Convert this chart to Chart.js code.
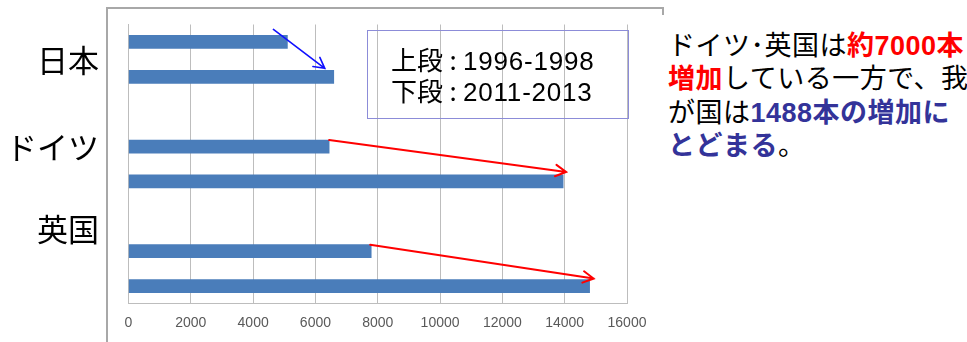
<!DOCTYPE html>
<html>
<head>
<meta charset="utf-8">
<script src="https://cdn.jsdelivr.net/npm/chart.js@4.4.1/dist/chart.umd.min.js"></script>
<style>
	html, body { margin: 0; padding: 0; background: #fff; overflow: hidden; }
	body { width: 967px; height: 342px; position: relative; font-family: "Liberation Sans", "Noto Sans CJK JP", sans-serif; }
	#marco { position: absolute; left: 106px; top: 7px; width: 558px; height: 400px; border: 2px solid #a8a8a8; box-sizing: border-box; }
	#lienzo { position: absolute; left: 0; top: 0; }
	.pais { position: absolute; right: 868px; font-size: 31px; line-height: 36px; color: #000; white-space: nowrap; }
	#leyenda { position: absolute; left: 367px; top: 30px; width: 262px; height: 89px; border: 1.5px solid #8c8cd8; box-sizing: border-box; }
	#leyenda div { position: absolute; left: 23px; font-size: 26px; line-height: 28px; color: #000; white-space: nowrap; }
	#leyenda .dos { font-family: "Noto Sans CJK JP"; display: inline-block; width: 20px; text-align: center; }
	#leyenda .num { letter-spacing: 0.8px; }
	#nota { position: absolute; left: 652px; top: 15px; width: 315px; height: 327px; background: #fff; }
	#nota p { position: absolute; left: 16px; top: 15px; margin: 0; font-size: 27px; letter-spacing: 0.5px; line-height: 33.3px; color: #000; white-space: nowrap; }
	.rojo { color: #ff0000; font-weight: bold; }
	.azul { color: #333399; font-weight: bold; }
</style>
</head>
<body>
<div id="marco"></div>
<canvas id="lienzo" width="967" height="342"></canvas>

<div class="pais" style="top:44px">日本</div>
<div class="pais" style="top:131px">ドイツ</div>
<div class="pais" style="top:213px">英国</div>

<div id="leyenda">
	<div style="top:14px">上段<span class="dos">:</span><span class="num">1996-1998</span></div>
	<div style="top:45px">下段<span class="dos">:</span><span class="num">2011-2013</span></div>
</div>

<div id="nota"><p>ドイツ･英国は<span class="rojo">約7000本</span><br><span class="rojo">増加</span>している一方で、我<br>が国は<span class="azul">1488本の増加に</span><br><span class="azul">とどまる</span>。</p></div>

<script>
// 本数: 上段 1996-1998, 下段 2011-2013
var paises = ['日本', 'ドイツ', '英国'];
var valores_1996_1998 = [5100, 6440, 7790];
var valores_2011_2013 = [6588, 13950, 14800];
var ticks_x = [0, 2000, 4000, 6000, 8000, 10000, 12000, 14000, 16000];

// cada pais ocupa dos filas y deja una vacia detras
var filas = [];
var datos = [];
for (var i = 0; i < paises.length; i++) {
	filas.push(paises[i], paises[i]);
	datos.push(valores_1996_1998[i], valores_2011_2013[i]);
	if (i < paises.length - 1) {
		filas.push('');
		datos.push(null);
	}
}

// flechas entre las dos barras de cada pais (desplazamientos en px)
var estilo_flechas = [
	{ color: '#1010ff', ancho: 1.6, dx0: -14, dy0: -6, dx1: -9, dy1: -2 },
	{ color: '#ff0000', ancho: 2, dx0: 0, dy0: 0, dx1: 3, dy1: -3 },
	{ color: '#ff0000', ancho: 2, dx0: -1, dy0: 0, dx1: 4, dy1: -1 }
];

function dibujaFlecha(ctx, x0, y0, x1, y1, color, ancho)
{
	var ang = Math.atan2(y1 - y0, x1 - x0);
	var largo = 12;
	ctx.save();
	ctx.strokeStyle = color;
	ctx.lineWidth = ancho;
	ctx.lineCap = 'round';
	ctx.beginPath();
	ctx.moveTo(x0, y0);
	ctx.lineTo(x1, y1);
	ctx.moveTo(x1 - largo * Math.cos(ang - 0.5), y1 - largo * Math.sin(ang - 0.5));
	ctx.lineTo(x1, y1);
	ctx.lineTo(x1 - largo * Math.cos(ang + 0.5), y1 - largo * Math.sin(ang + 0.5));
	ctx.stroke();
	ctx.restore();
}

var pluginFlechas = {
	id: 'flechas',
	afterDatasetsDraw: function (chart)
	{
		var barras = chart.getDatasetMeta(0).data;
		var ctx = chart.ctx;
		for (var i = 0; i < paises.length; i++) {
			var arriba = barras[i * 3];
			var abajo = barras[i * 3 + 1];
			var e = estilo_flechas[i];
			dibujaFlecha(ctx,
				arriba.x + e.dx0, arriba.y - arriba.height / 2 + e.dy0,
				abajo.x + e.dx1, abajo.y - abajo.height / 2 + e.dy1,
				e.color, e.ancho);
		}
	}
};

var gris = '#bdbdbd';

var grafica = new Chart(document.getElementById('lienzo').getContext('2d'), {
	type: 'bar',
	data: {
		labels: filas,
		datasets: [{
			data: datos,
			backgroundColor: '#4a7dba',
			borderWidth: 0,
			barThickness: 13
		}]
	},
	plugins: [pluginFlechas],
	options: {
		indexAxis: 'y',
		responsive: false,
		animation: false,
		layout: {
			padding: { left: 128.5, right: 340, top: 24.5, bottom: 0 }
		},
		plugins: {
			legend: { display: false },
			tooltip: { enabled: false }
		},
		scales: {
			x: {
				min: ticks_x[0],
				max: ticks_x[ticks_x.length - 1],
				afterBuildTicks: function (escala) {
					escala.ticks = ticks_x.map(function (v) { return { value: v }; });
				},
				afterFit: function (escala) { escala.height = 38.5; },
				grid: { color: gris, lineWidth: 1, drawTicks: false },
				border: { display: true, color: gris, width: 1 },
				ticks: {
					padding: 11,
					color: '#595959',
					font: { family: 'Liberation Sans', size: 14 },
					maxRotation: 0,
					callback: function (v) { return String(v); }
				}
			},
			y: {
				afterFit: function (escala) { escala.width = 0; },
				grid: { display: false },
				border: { display: true, color: gris, width: 1 },
				ticks: { display: false }
			}
		}
	}
});
</script>
</body>
</html>
